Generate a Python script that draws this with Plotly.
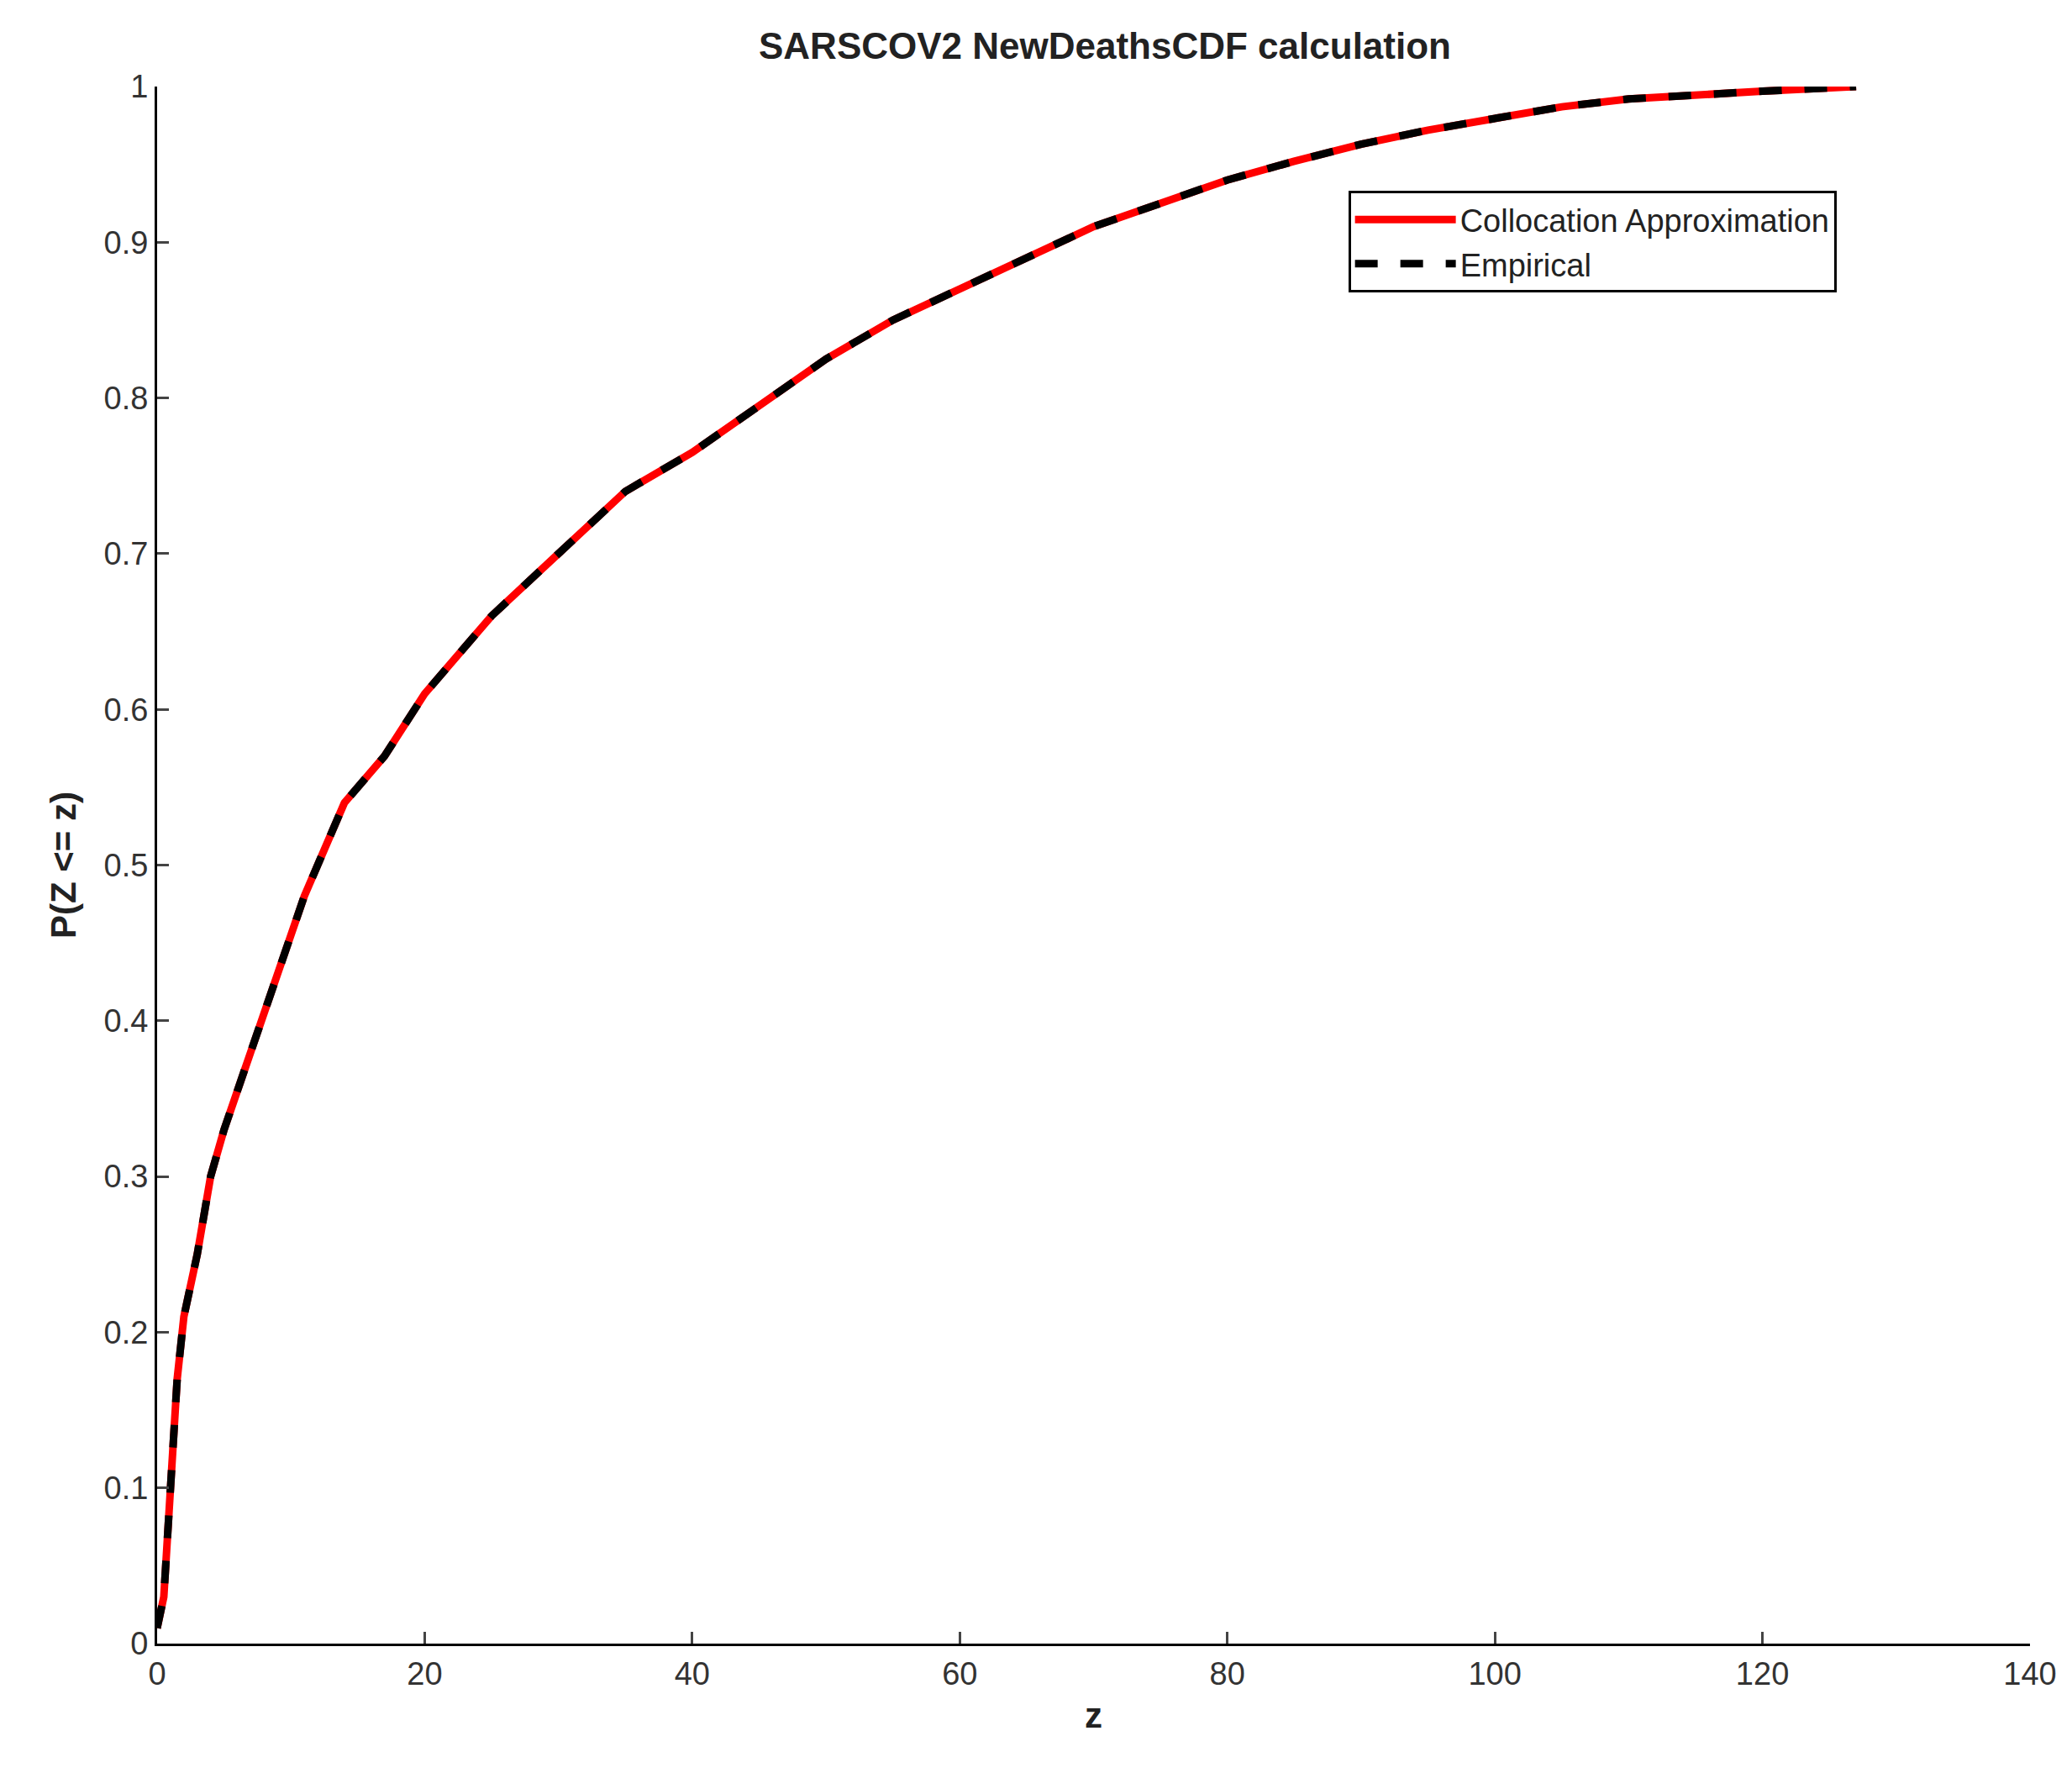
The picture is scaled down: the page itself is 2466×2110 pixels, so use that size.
import plotly.graph_objects as go

z = [0, 0.5, 1, 1.5, 2, 3, 4, 5, 7, 9, 11, 14, 17, 20, 25, 30, 35, 40, 45, 50, 55, 60, 65, 70, 75, 80, 85, 90, 95, 100, 105, 110, 115, 120, 127]
p = [0.01, 0.03, 0.10, 0.17, 0.21, 0.25, 0.30, 0.33, 0.38, 0.43, 0.48, 0.54, 0.57, 0.61, 0.66, 0.70, 0.74, 0.765, 0.795, 0.825, 0.85, 0.87, 0.89, 0.91, 0.925, 0.94, 0.952, 0.963, 0.972, 0.98, 0.987, 0.992, 0.995, 0.997, 1.0]
x_ticks = [0, 20, 40, 60, 80, 100, 120, 140]
y_ticks = [0, 0.1, 0.2, 0.3, 0.4, 0.5, 0.6, 0.7, 0.8, 0.9, 1]
y_labels = ["0", "0.1", "0.2", "0.3", "0.4", "0.5", "0.6", "0.7", "0.8", "0.9", "1"]

fig = go.Figure()
fig.add_trace(go.Scatter(x=z, y=p, mode="lines", name="Collocation Approximation",
                         line=dict(color="red", width=9)))
fig.add_trace(go.Scatter(x=z, y=p, mode="lines", name="Empirical",
                         line=dict(color="black", width=9, dash="dash")))
font = "Liberation Sans, Arial, sans-serif"
fig.update_layout(
    width=2466, height=2110, plot_bgcolor="white", paper_bgcolor="white",
    margin=dict(l=179, r=58, t=95, b=162),
    font=dict(family=font, size=38, color="#333"),
    title=dict(text="<b>SARSCOV2 NewDeathsCDF calculation</b>", x=0.53, xanchor="center",
               y=0.985, yanchor="top", font=dict(size=44, color="#222")),
    legend=dict(x=0.636, y=0.933, xanchor="left", yanchor="top",
                bordercolor="black", borderwidth=3, bgcolor="white",
                font=dict(size=38, color="#222"), itemwidth=120),
    xaxis=dict(range=[0, 140], tickvals=x_ticks, showline=True, linecolor="black", linewidth=3,
               ticks="inside", ticklen=14, tickwidth=3, showgrid=False, zeroline=False,
               title=dict(text="<b>z</b>", font=dict(size=42, color="#222"), standoff=15)),
    yaxis=dict(range=[0, 1], tickvals=y_ticks, ticktext=y_labels, showline=True, linecolor="black",
               linewidth=3, ticks="inside", ticklen=14, tickwidth=3, showgrid=False, zeroline=False,
               title=dict(text="<b>P(Z <= z)</b>", font=dict(size=42, color="#222"), standoff=20)),
)
fig.update_layout(legend_title_text="")
fig.data[0].legendgroup = None
fig.write_html("out.html")
